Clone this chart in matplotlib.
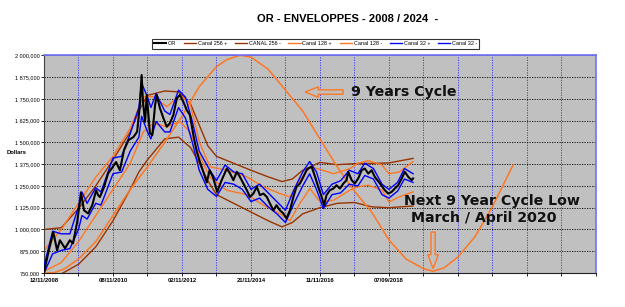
import matplotlib
matplotlib.use('Agg')
import matplotlib.pyplot as plt
from matplotlib.patches import FancyArrow
from matplotlib.ticker import FuncFormatter

plt.rcParams['font.family'] = ['Liberation Sans', 'DejaVu Sans']

# x = position on the category axis, in chart "years" from 12/11/2008
price_t = [0.00, 0.14, 0.27, 0.38, 0.46, 0.61, 0.75, 0.84, 0.96, 1.04, 1.07, 1.16, 1.28, 1.40,
           1.51, 1.57, 1.62, 1.74, 1.86, 1.97, 2.09, 2.20, 2.32, 2.45, 2.59, 2.70, 2.78, 2.83,
           2.87, 2.93, 2.98, 3.07, 3.14, 3.22, 3.27, 3.36, 3.46, 3.56, 3.65, 3.75, 3.85, 3.94,
           4.04, 4.14, 4.23, 4.33, 4.43, 4.52, 4.62, 4.72, 4.80, 4.90, 5.02, 5.15, 5.30, 5.39,
           5.49, 5.59, 5.68, 5.78, 5.88, 5.97, 6.07, 6.17, 6.26, 6.36, 6.46, 6.55, 6.65, 6.74,
           6.84, 6.94, 7.03, 7.13, 7.23, 7.32, 7.42, 7.52, 7.61, 7.66, 7.76, 7.86, 7.95, 8.05,
           8.12, 8.19, 8.29, 8.39, 8.48, 8.58, 8.68, 8.77, 8.82, 8.92, 9.01, 9.11, 9.21, 9.30,
           9.40, 9.50, 9.59, 9.74, 9.88, 9.98, 10.08, 10.17, 10.27, 10.37, 10.46, 10.56, 10.66, 10.70]
price = [755, 880, 985, 880, 938, 892, 938, 920, 1040, 1160, 1213, 1110, 1092, 1140,
         1225, 1197, 1186, 1243, 1323, 1352, 1387, 1340, 1456, 1513, 1530, 1561, 1714, 1887,
         1733, 1618, 1772, 1553, 1542, 1714, 1772, 1697, 1640, 1590, 1610, 1657, 1753, 1772,
         1733, 1685, 1657, 1542, 1446, 1388, 1330, 1270, 1340, 1300, 1216, 1283, 1350, 1323,
         1283, 1331, 1302, 1264, 1226, 1187, 1206, 1245, 1197, 1206, 1187, 1149, 1110, 1139,
         1110, 1092, 1063, 1110, 1187, 1245, 1264, 1302, 1340, 1350, 1360, 1302, 1245, 1187,
         1139, 1197, 1226, 1235, 1254, 1235, 1264, 1283, 1331, 1283, 1264, 1293, 1340, 1350,
         1321, 1340, 1302, 1264, 1226, 1206, 1216, 1235, 1254, 1293, 1331, 1302, 1283, 1293]

c32_t = [0.0, 0.25, 0.5, 0.75, 1.0, 1.1, 1.25, 1.5, 1.65, 1.75, 2.0, 2.25, 2.5, 2.75, 2.83,
         3.0, 3.1, 3.25, 3.5, 3.65, 3.9, 4.1, 4.3, 4.5, 4.75, 5.0, 5.25, 5.5, 5.75, 6.0,
         6.25, 6.5, 6.75, 7.0, 7.25, 7.5, 7.7, 7.9, 8.1, 8.35, 8.6, 8.85, 9.1, 9.3, 9.55,
         9.8, 10.0, 10.25, 10.45, 10.7]
c32_up = [790, 990, 975, 975, 1130, 1215, 1150, 1240, 1215, 1270, 1410, 1420, 1550, 1700, 1840,
          1760, 1700, 1780, 1680, 1660, 1800, 1760, 1620, 1450, 1360, 1280, 1370, 1330, 1320, 1230,
          1260, 1210, 1160, 1110, 1230, 1330, 1390, 1330, 1200, 1260, 1280, 1340, 1320, 1380, 1350,
          1260, 1230, 1270, 1350, 1320]
c32_dn = [750, 860, 880, 890, 1000, 1080, 1060, 1150, 1140, 1190, 1320, 1330, 1450, 1530, 1650,
          1560, 1520, 1620, 1560, 1560, 1700, 1640, 1500, 1340, 1230, 1190, 1270, 1260, 1230, 1160,
          1180, 1130, 1090, 1040, 1150, 1250, 1320, 1230, 1120, 1200, 1210, 1260, 1250, 1310, 1290,
          1200, 1180, 1220, 1290, 1270]

c128_t = [0.0, 0.5, 1.0, 1.5, 2.0, 2.5, 2.75, 2.88, 3.17, 3.56, 3.94, 4.23, 4.52, 4.81, 5.3,
          5.88, 6.36, 6.84, 7.13, 7.42, 7.71, 8.0, 8.4, 8.87, 9.1, 9.4, 9.8, 10.0, 10.3, 10.7]
c128_up = [880, 1000, 1150, 1300, 1420, 1580, 1700, 1762, 1762, 1705, 1772, 1724, 1494, 1360, 1340,
           1302, 1245, 1206, 1187, 1283, 1360, 1345, 1320, 1350, 1380, 1395, 1370, 1320, 1330, 1390]
c128_dn = [760, 810, 930, 1080, 1230, 1380, 1500, 1560, 1610, 1590, 1620, 1560, 1420, 1300, 1225,
           1200, 1140, 1090, 1050, 1150, 1235, 1158, 1168, 1226, 1245, 1254, 1226, 1158, 1187, 1216]

c256_t = [0.0, 0.5, 1.0, 1.5, 2.0, 2.5, 2.75, 3.0, 3.5, 3.9, 4.25, 4.5, 4.75, 5.0, 5.5,
          6.0, 6.5, 6.9, 7.2, 7.5, 8.0, 8.5, 9.0, 9.5, 10.0, 10.7]
c256_up = [1000, 1010, 1120, 1250, 1400, 1560, 1680, 1770, 1795, 1790, 1720, 1600, 1480, 1420, 1380,
           1340, 1302, 1275, 1290, 1340, 1385, 1372, 1378, 1379, 1382, 1408]
c256_dn = [745, 745, 800, 900, 1050, 1230, 1330, 1400, 1520, 1530, 1470, 1380, 1280, 1200, 1150,
           1100, 1050, 1015, 1040, 1090, 1125, 1150, 1155, 1130, 1125, 1135]

cycle_t = [0.0, 0.3, 0.6, 1.0, 1.5, 2.0, 2.5, 3.0, 3.5, 4.0, 4.5, 5.0, 5.3, 5.68, 6.0,
           6.5, 7.0, 7.5, 8.0, 8.5, 9.0, 9.5, 10.0, 10.5, 11.0, 11.28, 11.6, 12.0, 12.5,
           13.0, 13.3, 13.6]
cycle = [750, 752, 775, 830, 930, 1080, 1230, 1360, 1500, 1650, 1820, 1935, 1975, 2000, 1990,
         1920, 1800, 1680, 1520, 1360, 1220, 1100, 940, 830, 775, 760, 780, 842, 960,
         1130, 1250, 1370]

x_labels = ['12/11/2008', '08/11/2010', '02/11/2012', '21/11/2014', '11/11/2016', '07/09/2018']
x_label_pos = [0, 2, 4, 6, 8, 10]

BROWN = '#993300'
ORANGE = '#FF7722'
BLUE = '#0000FF'

fig = plt.figure(figsize=(6.25, 3.07), dpi=100)
ax = fig.add_axes([0.0704, 0.1107, 0.883, 0.7092])
ax.set_facecolor('#C0C0C0')

ax.plot(price_t, price, color='black', lw=1.5, label='OR', zorder=5)
ax.plot(c256_t, c256_up, color=BROWN, lw=1.0, label='Canal 256 +')
ax.plot(c256_t, c256_dn, color=BROWN, lw=1.0, label='CANAL 256 -')
ax.plot(c128_t, c128_up, color=ORANGE, lw=1.0, label='Canal 128 +')
ax.plot(c128_t, c128_dn, color=ORANGE, lw=1.0, label='Canal 128 -')
ax.plot(c32_t, c32_up, color=BLUE, lw=1.0, label='Canal 32 +', zorder=4)
ax.plot(c32_t, c32_dn, color=BLUE, lw=1.0, label='Canal 32 -', zorder=4)
ax.plot(cycle_t, cycle, color=ORANGE, lw=1.1)

ax.set_xlim(0, 16)
ax.set_ylim(750, 2000)
ax.set_yticks(range(750, 2001, 125))
ax.yaxis.set_major_formatter(FuncFormatter(
    lambda v, p: '{:,}'.format(int(v)).replace(',', ' ') + ',000'))
ax.set_xticks(x_label_pos)
ax.set_xticklabels(x_labels, fontweight='bold')
ax.set_xticks(range(0, 17), minor=True)
ax.tick_params(axis='y', labelsize=4, length=2, width=0.6, pad=1)
ax.tick_params(axis='x', which='both', labelsize=4.2, length=2, width=0.6, pad=1.5)

ax.grid(axis='y', color='black', ls=(0, (1.5, 1.5)), lw=0.6)
for t in range(1, 16):
    ax.axvline(t, color='#3030FF', ls=(0, (1.5, 1.5)), lw=0.6, zorder=1)

for s in ['top', 'right']:
    ax.spines[s].set_color('#7070FF')
    ax.spines[s].set_linewidth(1.2)
ax.spines['left'].set_color('#404040')
ax.spines['bottom'].set_color('#202020')

# annotations
ax.text(8.9, 1789, '9 Years Cycle', family='DejaVu Sans', fontweight='bold',
        fontsize=10.2, color='#111111', ha='left', va='center')
ax.add_patch(FancyArrow(8.67, 1789, -1.1, 0, width=25, head_width=60, head_length=0.38,
                        length_includes_head=True, fc='#C0C0C0', ec=ORANGE, lw=1.0, zorder=6))
ax.text(13.0, 1162, 'Next 9 Year Cycle Low', family='DejaVu Sans', fontweight='bold',
        fontsize=10.2, color='#111111', ha='center', va='center')
ax.text(12.74, 1068, 'March / April 2020', family='DejaVu Sans', fontweight='bold',
        fontsize=10.2, color='#111111', ha='center', va='center')
ax.add_patch(FancyArrow(11.28, 985, 0, -210, width=0.12, head_width=0.3, head_length=80,
                        length_includes_head=True, fc='#C0C0C0', ec=ORANGE, lw=1.0, zorder=6))

fig.text(0.5568, 0.938, 'OR - ENVELOPPES - 2008 / 2024  -', fontsize=8, fontweight='bold',
         ha='center', va='center')
fig.text(0.011, 0.502, 'Dollars', fontsize=4.2, fontweight='bold', ha='left', va='center')

leg = fig.legend(loc='center', bbox_to_anchor=(0.5046, 0.857), ncol=7, fontsize=4,
                 frameon=True, fancybox=False, edgecolor='black', handlelength=2.2,
                 handletextpad=0.3, columnspacing=1.4, borderpad=0.4)
leg.get_frame().set_linewidth(0.8)

fig.savefig('out.png', dpi=100)
